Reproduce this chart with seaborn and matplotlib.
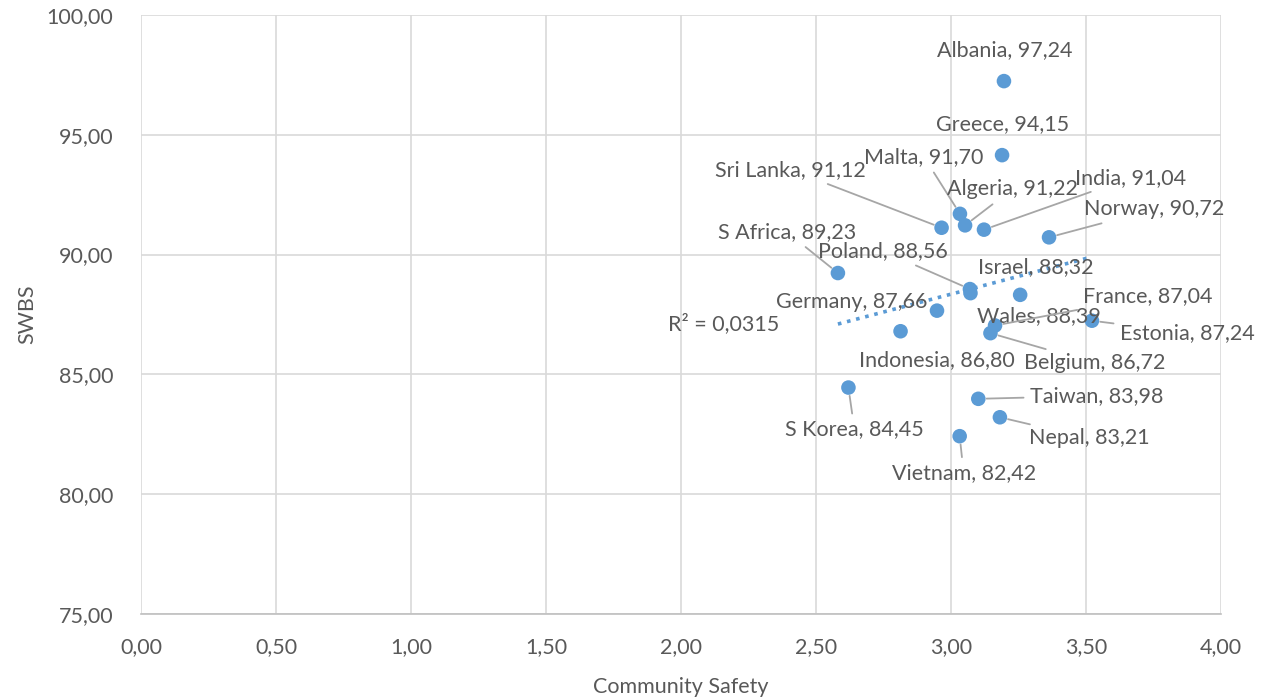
import numpy as np
import pandas as pd
import matplotlib
matplotlib.use('Agg')
import matplotlib.pyplot as plt
import seaborn as sns

countries = ['Albania', 'Greece', 'Malta', 'Algeria', 'Sri Lanka', 'India',
             'Norway', 'S Africa', 'Poland', 'Wales', 'Israel', 'Estonia',
             'France', 'Germany', 'Indonesia', 'Belgium', 'S Korea', 'Taiwan',
             'Nepal', 'Vietnam']
safety = [3.196, 3.189, 3.033, 3.052, 2.965, 3.122,
          3.363, 2.581, 3.070, 3.072, 3.256, 3.522,
          3.163, 2.948, 2.813, 3.146, 2.620, 3.101,
          3.181, 3.032]
swbs = [97.24, 94.15, 91.70, 91.22, 91.12, 91.04,
        90.72, 89.23, 88.56, 88.39, 88.32, 87.24,
        87.04, 87.66, 86.80, 86.72, 84.45, 83.98,
        83.21, 82.42]
r2_text = 'R² = 0,0315'

x_ticks = [0, 0.5, 1.0, 1.5, 2.0, 2.5, 3.0, 3.5, 4.0]
y_ticks = [75, 80, 85, 90, 95, 100]

# label offsets in pixels (dx, dy, leader line?)
label_pos = {
    'Albania': (1, 31, False),
    'Greece': (1, 31, False),
    'Malta': (-36, 57, True),
    'Algeria': (47, 36, True),
    'Sri Lanka': (-151, 58, True),
    'India': (147, 52, True),
    'Norway': (105, 28, True),
    'S Africa': (-51, 41, True),
    'Poland': (-87, 38, True),
    'Wales': (68, -23, False),
    'Israel': (16, 28, False),
    'Estonia': (95, -12, True),
    'France': (153, 29, True),
    'Germany': (-85, 9, False),
    'Indonesia': (36, -29, False),
    'Belgium': (104, -30, True),
    'S Korea': (6, -42, True),
    'Taiwan': (118, 3, True),
    'Nepal': (89, -21, True),
    'Vietnam': (4, -37, True),
}

df = pd.DataFrame({'Country': countries, 'Safety': safety, 'SWBS': swbs})

blue = '#5B9BD5'
text_col = '#595959'
grid_col = '#D9D9D9'

sns.set_style('white')
plt.rcParams['font.family'] = ['Lato', 'DejaVu Sans']

fig, ax = plt.subplots(figsize=(12.64, 7), dpi=100)
fig.subplots_adjust(left=0.1116, right=0.966, top=0.9786, bottom=0.1229)

sns.regplot(data=df, x='Safety', y='SWBS', scatter=False, ci=None, truncate=True,
            line_kws=dict(ls=(0, (1, 1.6)), lw=2.6, color=blue), ax=ax)
sns.scatterplot(data=df, x='Safety', y='SWBS', s=110, color=blue, edgecolor='none',
                zorder=3, ax=ax)

fs = 15.5
for name, xv, yv in zip(countries, safety, swbs):
    dx, dy, leader = label_pos[name]
    label = f"{name}, {yv:.2f}".replace('.', ',')
    arrow = dict(arrowstyle='-', color='#A6A6A6', lw=1.3, shrinkA=2, shrinkB=6) if leader else None
    ax.annotate(label, xy=(xv, yv), xytext=(dx, dy), textcoords='offset pixels',
                ha='center', va='center', fontsize=fs, color=text_col,
                arrowprops=arrow, zorder=4)

ax.annotate(r2_text, xy=(df['Safety'].min(), 87.13), xytext=(-114, 0),
            textcoords='offset pixels', ha='center', va='center',
            fontsize=fs, color=text_col)

ax.set_xlim(0, 4)
ax.set_ylim(75, 100)
ax.set_xticks(x_ticks)
ax.set_yticks(y_ticks)
ax.set_xticklabels([f"{v:.2f}".replace('.', ',') for v in x_ticks])
ax.set_yticklabels([f"{v:.2f}".replace('.', ',') for v in y_ticks])
ax.tick_params(axis='both', length=0, labelsize=fs, labelcolor=text_col)
ax.tick_params(axis='y', pad=20)
ax.tick_params(axis='x', pad=17)

ax.grid(True, color=grid_col, lw=1.2)
ax.set_axisbelow(True)
for s in ['top', 'right', 'left']:
    ax.spines[s].set_visible(False)
ax.spines['bottom'].set_color('#BFBFBF')
ax.spines['bottom'].set_linewidth(1.2)

ax.set_xlabel('Community Safety', fontsize=fs, color=text_col, labelpad=14)
ax.set_ylabel('SWBS', fontsize=fs, color=text_col, labelpad=7)

plt.savefig('out.png', dpi=100)
